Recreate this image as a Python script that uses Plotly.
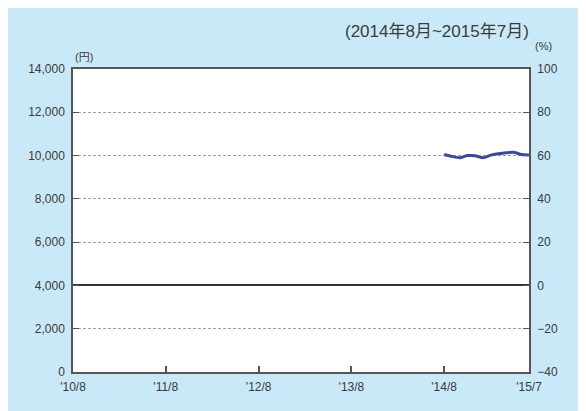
import plotly.graph_objects as go

# Data
months = ["2014-08-01", "2014-09-01", "2014-10-01", "2014-11-01", "2014-12-01", "2015-01-01",
          "2015-02-01", "2015-03-01", "2015-04-01", "2015-05-01", "2015-06-01", "2015-07-01"]
nav = [10050, 9960, 9900, 10000, 9990, 9900, 10020, 10080, 10130, 10150, 10050, 10030]

x_tickvals = ["2010-08-01", "2011-08-01", "2012-08-01", "2013-08-01", "2014-08-01", "2015-07-01"]
x_ticktext = ["'10/8", "'11/8", "'12/8", "'13/8", "'14/8", "'15/7"]
y_left_ticks = [0, 2000, 4000, 6000, 8000, 10000, 12000, 14000]
y_right_ticks = [-40, -20, 0, 20, 40, 60, 80, 100]

BLUE = "#c9e9f9"
AX = "#555555"
TXT = "#3a3a3a"
FONT = "Liberation Sans, Arial, sans-serif"
JFONT = "Liberation Sans, Noto Sans CJK JP, sans-serif"

fig = go.Figure()
fig.add_trace(go.Scatter(x=months, y=nav, mode="lines",
                         line=dict(color="#3b4b9b", width=3, shape="spline", smoothing=0.6),
                         hoverinfo="skip", showlegend=False))
# invisible trace for the right axis
fig.add_trace(go.Scatter(x=[months[0]], y=[0], yaxis="y2", mode="markers",
                         marker=dict(opacity=0), showlegend=False, hoverinfo="skip"))

# page body has an 8px default margin; the figure starts at (8, 8)
OFF = 8
W, H = 586 - OFF, 411 - OFF
L, R, T, B = 73 - OFF, 57, 69 - OFF, 39
pw, ph = W - L - R, H - T - B

fig.update_layout(
    width=W, height=H,
    margin=dict(l=L, r=R, t=T, b=B),
    paper_bgcolor=BLUE, plot_bgcolor="white",
    font=dict(family=FONT, size=12, color=TXT),
    xaxis=dict(type="date", range=["2010-08-01", "2015-07-01"],
               tickvals=x_tickvals, ticktext=x_ticktext, automargin=False,
               ticks="inside", ticklen=6, tickwidth=1.5, tickcolor=AX,
               showline=True, linecolor=AX, linewidth=1.5, mirror=True,
               showgrid=False, zeroline=False, ticklabelstandoff=3),
    yaxis=dict(range=[0, 14000], tickvals=y_left_ticks, automargin=False,
               tickformat=",d",
               ticks="inside", ticklen=6, tickwidth=1.2, tickcolor=AX,
               showline=True, linecolor=AX, linewidth=1.5,
               showgrid=True, gridcolor="#a0a0a0", gridwidth=1, griddash="3px,2px",
               zeroline=False, ticklabelstandoff=4),
    yaxis2=dict(range=[-40, 100], tickvals=y_right_ticks, overlaying="y", side="right",
                automargin=False,
                ticks="inside", ticklen=6, tickwidth=1.2, tickcolor=AX,
                showline=True, linecolor=AX, linewidth=1.8,
                showgrid=False, zeroline=True, zerolinecolor="#333333", zerolinewidth=1.5,
                ticklabelstandoff=4),
)

fig.add_annotation(text="(2014年8月~2015年7月)", xref="paper", yref="paper",
                   x=(531 - 73) / pw, y=1 + (69 - 32) / ph, xanchor="right", yanchor="middle",
                   showarrow=False, font=dict(family=JFONT, size=17, color=TXT))
fig.add_annotation(text="(円)", xref="paper", yref="paper",
                   x=0, y=1 + (69 - 57) / ph, xanchor="left", yanchor="middle",
                   showarrow=False, font=dict(family=JFONT, size=11, color=TXT))
fig.add_annotation(text="(%)", xref="paper", yref="paper",
                   x=(533 - 73) / pw, y=1 + (69 - 46) / ph, xanchor="left", yanchor="middle",
                   showarrow=False, font=dict(family=JFONT, size=11, color=TXT))

fig.write_html("out.html")
